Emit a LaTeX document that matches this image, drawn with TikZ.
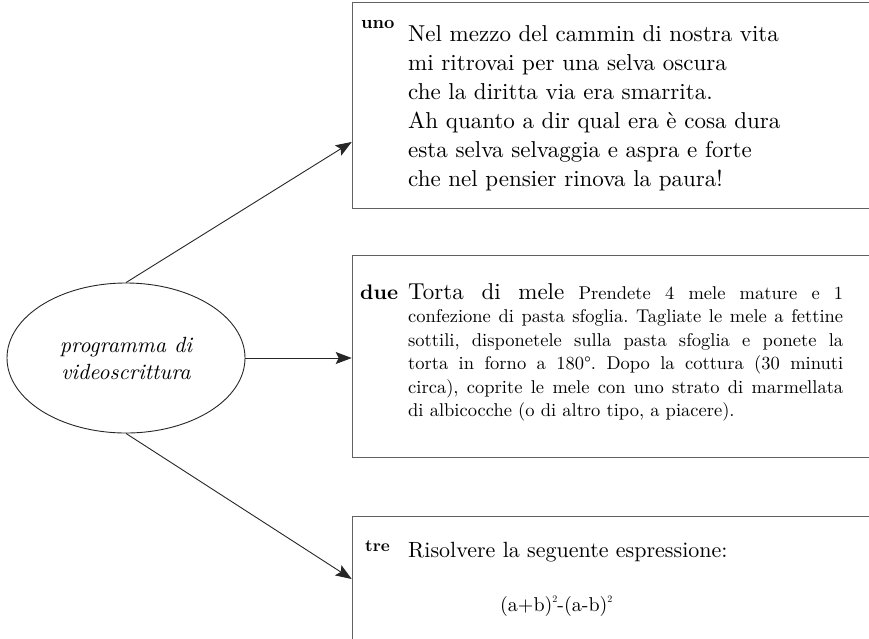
\documentclass[tikz,border=0pt]{standalone}
\usepackage{fontspec}
\setmainfont{lmroman10-regular.otf}[BoldFont=lmroman10-bold.otf, ItalicFont=lmroman10-italic.otf]
\usetikzlibrary{arrows.meta,shapes.geometric,calc}
\begin{document}
\frenchspacing
\begin{tikzpicture}[x=1pt,y=-1pt,
  link/.style={draw=black!85, line width=0.9pt, -{Stealth[length=16pt,width=12pt,inset=3pt]}},
  box/.style={draw=black!62, line width=1.3pt, rectangle, anchor=north west, inner sep=0pt, minimum width=560pt},
  verse/.style={anchor=base west, inner sep=0pt, font=\fontsize{23}{29}\selectfont, text=black},
  tag/.style={anchor=base west, inner sep=0pt, text=black},
  sq/.style={}]
\useasboundingbox (0,0) rectangle (869,638);
\clip (0,0) rectangle (869,638);
% boxes
\node[box, minimum height=206pt] (b1) at (351.7,1.5) {};
\node[box, minimum height=201.7pt] (b2) at (351.7,255) {};
\node[box, minimum height=140pt] (b3) at (351.7,516) {};
% ellipse
\node[ellipse, draw=black!85, line width=0.9pt, minimum width=238pt, minimum height=150pt, inner sep=0pt,
      align=center, font=\itshape\fontsize{22}{27}\selectfont, text=black] (ell) at (126,358)
      {programma di\\videoscrittura};
% box 1
\node[tag, font=\bfseries\fontsize{18}{21}\selectfont] (uno) at (361,28) {uno};
\node[verse] (v1) at (408,41) {Nel mezzo del cammin di nostra vita};
\node[verse] (v2) at (408,70) {mi ritrovai per una selva oscura};
\node[verse] (v3) at (408,99) {che la diritta via era smarrita.};
\node[verse] (v4) at (408,128) {Ah quanto a dir qual era è cosa dura};
\node[verse] (v5) at (408,157) {esta selva selvaggia e aspra e forte};
\node[verse] (v6) at (408,186) {che nel pensier rinova la paura!};
% box 2
\node[tag, font=\bfseries\fontsize{21}{24}\selectfont] (due) at (360,299) {due};
\node[anchor=base west, inner sep=0pt, text width=435pt, align=justify, text=black,
      font=\fontsize{18.5}{23.5}\selectfont] (t2) at (408,299)
  {{\fontsize{23}{23.5}\selectfont Torta di mele} Prendete 4 mele mature e 1\linebreak
   confezione di pasta sfoglia. Tagliate le mele a fettine\linebreak
   sottili, disponetele sulla pasta sfoglia e ponete la\linebreak
   torta in forno a 180°. Dopo la cottura (30 minuti\linebreak
   circa), coprite le mele con uno strato di marmellata\linebreak
   di albicocche (o di altro tipo, a piacere).};
% box 3
\node[tag, font=\bfseries\fontsize{17}{20}\selectfont] (tre) at (365,551) {tre};
\node[verse, font=\fontsize{22}{27}\selectfont] (t3) at (408,557) {Risolvere la seguente espressione:};
\node[verse, font=\fontsize{20}{24}\selectfont] (f3) at (500,611)
  {(a+b)\raisebox{9pt}{\fontsize{10}{11}\selectfont 2}-(a-b)\raisebox{9pt}{\fontsize{10}{11}\selectfont 2}};
% connectors
\coordinate (in1) at ([yshift=-140.5pt]b1.north west);
\coordinate (in3) at ([yshift=-63pt]b3.north west);
\draw[link] (ell.north) -- (in1);
\draw[link] (ell.east) -- (ell.east -| b2.west);
\draw[link] (ell.south) -- (in3);
\end{tikzpicture}
\end{document}
